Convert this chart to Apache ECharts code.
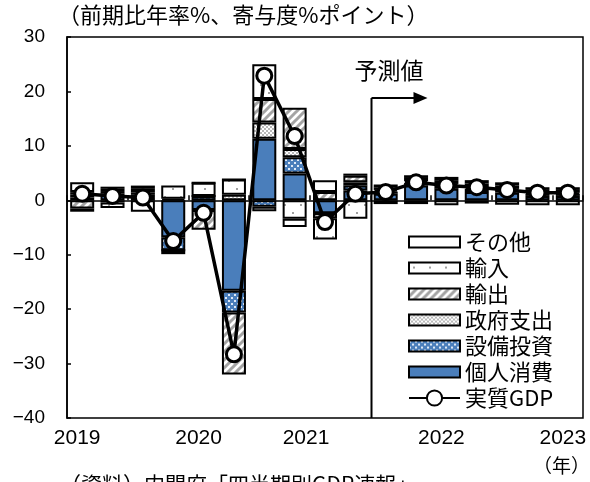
<!DOCTYPE html>
<html>
<head>
<meta charset="utf-8">
<script src="https://cdn.jsdelivr.net/npm/echarts@6/dist/echarts.min.js"></script>
<style>
  html, body { margin: 0; padding: 0; background: #fff; }
  #chart { width: 590px; height: 482px; }
</style>
</head>
<body>
<div id="chart"></div>
<script>
// Quarterly categories, 2019 Q1 to 2023 Q1 (Q1 of each year carries the year tick label)
const quarters = ['2019Q1','2019Q2','2019Q3','2019Q4','2020Q1','2020Q2','2020Q3','2020Q4',
                  '2021Q1','2021Q2','2021Q3','2021Q4','2022Q1','2022Q2','2022Q3','2022Q4','2023Q1'];
const yearTicks = ['2019', '2020', '2021', '2022', '2023'];

// Contributions to growth (annualised q/q, %pt)
const consumption = [0.5, 1.2, 0.6, -6.8, -1.8, -16.6, 11.3, 4.9, -2.4, 1.8, 1.2, 2.7, 2.1, 1.5, 1.4, 0.8, 0.8];
const investment  = [0.6, 0.5, 0.4, -2.4, 0.8, -4.0, -1.2, 3.0, 0, 0.9, 0.4, 0.5, 0.6, 0.6, 0.5, 0.4, 0.4];
const government  = [0.4, 0.4, 0.4, 0, 0, 1.0, 3.0, 1.5, -0.9, 0.6, 0.3, 0.3, 0.3, 0.3, 0.2, 0.2, 0.2];
const exportsC    = [-1.5, -0.4, 0.7, 0.3, -3.6, -11.4, 4.3, 7.6, 1.5, 1.2, 0.5, 0.6, 0.7, 0.7, 0.6, 0.5, 0.5];
const importsC    = [1.8, -1.0, -2.1, 2.4, 2.4, 2.8, 6.4, -3.4, -3.9, -3.4, -0.7, -0.7, -0.9, -0.6, -0.8, -0.9, -0.9];
const others      = [-0.6, 0.4, 0.6, -0.7, 0, 0, -0.8, -1.5, 2.2, 0.4, 0.5, 0.5, 0.6, 0.6, 0.6, 0.5, 0.5];
// Real GDP growth (annualised q/q, %)
const realGdp     = [1.2, 0.8, 0.5, -7.5, -2.3, -28.3, 22.9, 11.8, -4.0, 1.2, 1.5, 3.3, 2.7, 2.4, 1.9, 1.4, 1.4];

// First forecast quarter
const forecastStart = '2021Q3';

const FONT_NUM = '"Liberation Sans", Arial, sans-serif';
const FONT_JP = '"Noto Sans CJK JP", "Noto Sans", sans-serif';
const BLUE = '#4A7EBB';

// Tiled fill patterns
function pattern(size, draw) {
  const c = document.createElement('canvas');
  c.width = size; c.height = size;
  const ctx = c.getContext('2d');
  draw(ctx, size);
  return { image: c, repeat: 'repeat' };
}
const fillInvest = pattern(6, (ctx, s) => {
  ctx.fillStyle = BLUE; ctx.fillRect(0, 0, s, s);
  ctx.fillStyle = '#dfe9f6';
  ctx.fillRect(0, 0, 2, 2); ctx.fillRect(3, 3, 2, 2);
});
const fillGov = pattern(4, (ctx, s) => {
  ctx.fillStyle = '#ffffff'; ctx.fillRect(0, 0, s, s);
  ctx.fillStyle = '#b8b8b8';
  ctx.fillRect(0, 0, 2, 2); ctx.fillRect(2, 2, 2, 2);
});
const fillExports = pattern(8, (ctx, s) => {
  ctx.fillStyle = '#ffffff'; ctx.fillRect(0, 0, s, s);
  ctx.strokeStyle = '#a4a4a4'; ctx.lineWidth = 3;
  ctx.beginPath();
  ctx.moveTo(-2, s + 2); ctx.lineTo(s + 2, -2);
  ctx.moveTo(-2, 2); ctx.lineTo(2, -2);
  ctx.moveTo(s - 2, s + 2); ctx.lineTo(s + 2, s - 2);
  ctx.stroke();
});
const fillImports = pattern(16, (ctx, s) => {
  ctx.fillStyle = '#ffffff'; ctx.fillRect(0, 0, s, s);
  ctx.fillStyle = '#a0a0a0';
  ctx.fillRect(4, 4, 2, 2); ctx.fillRect(12, 12, 2, 2);
});

const barDefs = [
  { name: '個人消費', data: consumption, fill: BLUE },
  { name: '設備投資', data: investment, fill: fillInvest },
  { name: '政府支出', data: government, fill: fillGov },
  { name: '輸出', data: exportsC, fill: fillExports },
  { name: '輸入', data: importsC, fill: fillImports },
  { name: 'その他', data: others, fill: '#ffffff' }
];

const series = barDefs.map(d => ({
  type: 'bar',
  name: d.name,
  stack: 'contrib',
  data: d.data,
  barWidth: 24,
  itemStyle: { color: d.fill, borderColor: '#000', borderWidth: 2 },
  emphasis: { disabled: true }
}));
series.push({
  type: 'line',
  name: '実質GDP',
  data: realGdp,
  z: 5,
  symbol: 'circle',
  symbolSize: 15,
  lineStyle: { color: '#000', width: 3.5 },
  itemStyle: { color: '#fff', borderColor: '#000', borderWidth: 3 },
  emphasis: { disabled: true }
});

const yearShift = { '2021': 19 };

const chart = echarts.init(document.getElementById('chart'));
chart.setOption({
  animation: false,
  backgroundColor: '#fff',
  grid: { left: 67, right: 7, top: 37, bottom: 64, show: true, borderColor: '#000', borderWidth: 1.5 },
  legend: [
    {
      data: barDefs.slice().reverse().map(d => ({ name: d.name, icon: 'rect' })),
      orient: 'vertical', left: 403, top: 226,
      itemWidth: 51, itemHeight: 11, itemGap: 4,
      selectedMode: false,
      textStyle: { fontFamily: FONT_JP, fontSize: 22, color: '#000', lineHeight: 22 }
    },
    {
      data: ['実質GDP'],
      orient: 'vertical', left: 403, top: 382,
      itemWidth: 51, itemHeight: 19,
      selectedMode: false,
      textStyle: { fontFamily: FONT_JP, fontSize: 22, color: '#000', lineHeight: 22 }
    }
  ],
  xAxis: [
    {
      type: 'category', data: quarters, position: 'bottom',
      axisLine: { show: false, onZero: false },
      axisTick: { show: false },
      axisLabel: {
        interval: 0, margin: 10, color: '#000', fontFamily: FONT_NUM, fontSize: 21,
        formatter: (v, i) => {
          if (i % 4 !== 0) return '';
          const y = yearTicks[i / 4];
          return yearShift[y] ? '{w|' + y + '}' : '{n|' + y + '}';
        },
        rich: {
          n: { fontFamily: FONT_NUM, fontSize: 21, color: '#000', padding: [0, 10, 0, 0] },
          w: { fontFamily: FONT_NUM, fontSize: 21, color: '#000', padding: [0, 38, 0, 0] }
        }
      }
    },
    {
      type: 'category', data: quarters, position: 'bottom',
      axisLine: { show: true, onZero: true, lineStyle: { color: '#000', width: 1.5 } },
      axisTick: { show: true, inside: true, length: 5, lineStyle: { color: '#000', width: 1.5 } },
      axisLabel: { show: false }
    }
  ],
  yAxis: {
    type: 'value', min: -40, max: 30, interval: 10,
    axisLine: { show: true, lineStyle: { color: '#000', width: 1.5 } },
    axisTick: { show: true, inside: true, length: 4, lineStyle: { color: '#000', width: 1.5 } },
    splitLine: { show: false },
    axisLabel: {
      margin: 22, color: '#000', fontFamily: FONT_NUM, fontSize: 19,
      formatter: v => String(v).replace('-', '\u2212')
    }
  },
  series: series
});

// Forecast divider, arrow and notes, placed from the axes
const fi = quarters.indexOf(forecastStart);
const xa = chart.convertToPixel({ xAxisIndex: 0 }, quarters[fi - 1]);
const xb = chart.convertToPixel({ xAxisIndex: 0 }, quarters[fi]);
const xd = Math.round((xa + xb) / 2) + 0.5;
const yTop = Math.round(chart.convertToPixel({ yAxisIndex: 0 }, 18.8));
const yBot = chart.convertToPixel({ yAxisIndex: 0 }, -40);

chart.setOption({
  graphic: [
    { type: 'line', shape: { x1: xd, y1: yTop, x2: xd, y2: yBot }, style: { stroke: '#000', lineWidth: 2 }, z: 10 },
    { type: 'line', shape: { x1: xd, y1: yTop, x2: xd + 44, y2: yTop }, style: { stroke: '#000', lineWidth: 2 }, z: 10 },
    { type: 'polygon', shape: { points: [[xd + 42, yTop - 6], [xd + 56, yTop], [xd + 42, yTop + 6]] }, style: { fill: '#000' }, z: 10 },
    { type: 'text', left: xd - 17, top: 59, style: { text: '予測値', font: '23px ' + FONT_JP, fill: '#000' }, z: 10 },
    { type: 'text', left: 58, top: 4, style: { text: '（前期比年率%、寄与度%ポイント）', font: '22px ' + FONT_JP, fill: '#000' } },
    { type: 'text', right: 0, top: 456, style: { text: '（年）', font: '19px ' + FONT_JP, fill: '#000' } },
    { type: 'text', left: 60, top: 474, style: { text: '（資料）内閣府「四半期別GDP速報」', font: '21px ' + FONT_JP, fill: '#000' } }
  ]
});
</script>
</body>
</html>
